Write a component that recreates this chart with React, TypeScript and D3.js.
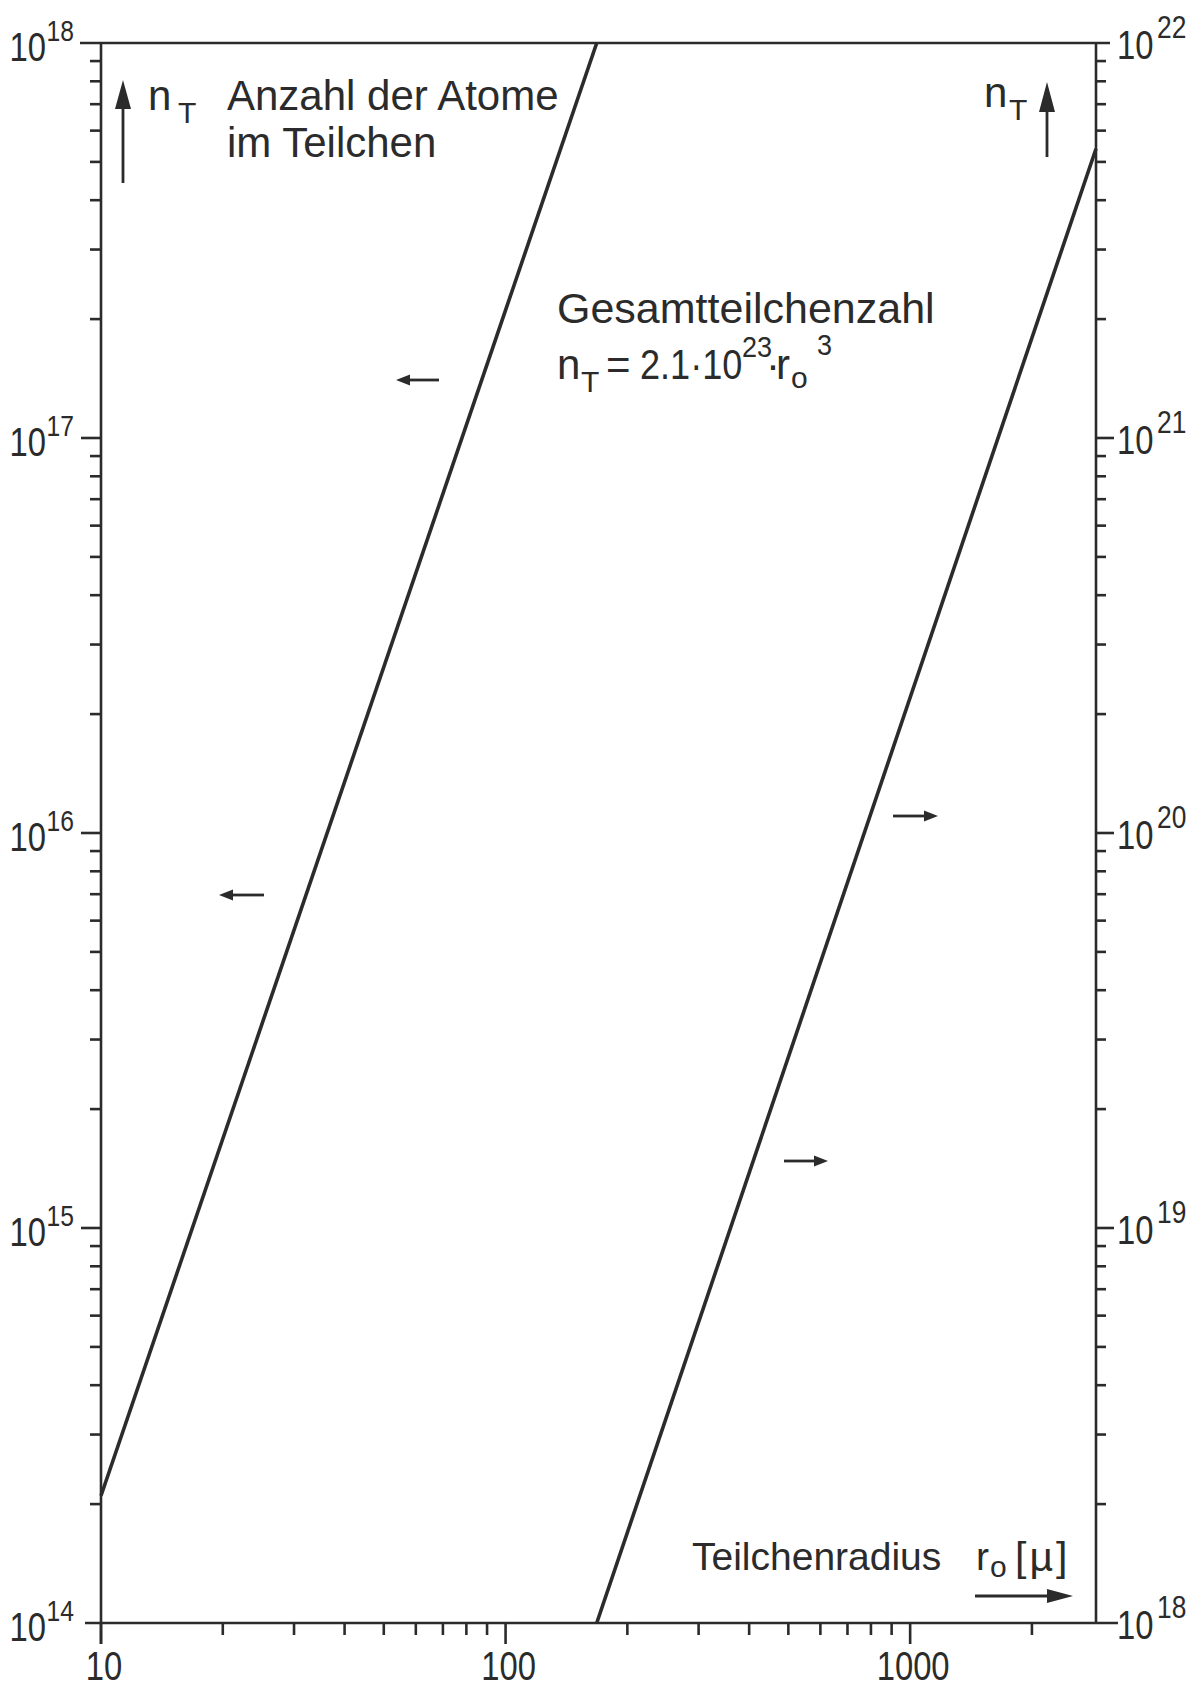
import React from "react";
import * as d3 from "d3";

// ---- data ----
// left series (read on left axis): radius r0 [µ] vs n_T
const leftLineR = [10, 168];
const leftLineN = [2.1e14, 1e18];
// right series (read on right axis)
const rightLineR = [168, 2880];
const rightLineN = [1e18, 5.4e21];

const xDomain = [10, 2880];
const yLeftDomain = [1e14, 1e18];
const yRightDomain = [1e18, 1e22];

const xMajorTicks = [10, 100, 1000];
const xTickLabels = ["10", "100", "1000"];
const xMinorTicks = [20, 30, 40, 50, 60, 70, 80, 90, 200, 300, 400, 500, 600, 700, 800, 900, 2000];

const leftMajorTicks = [1e14, 1e15, 1e16, 1e17, 1e18];
const leftExponents = ["14", "15", "16", "17", "18"];
const rightMajorTicks = [1e18, 1e19, 1e20, 1e21, 1e22];
const rightExponents = ["18", "19", "20", "21", "22"];
const minorMultipliers = [2, 3, 4, 5, 6, 7, 8, 9];

const ink = "#2b2b2b";
const font = "'Liberation Sans', Arial, sans-serif";

const L = 101, R = 1096, T = 43, B = 1623;

function Arrow({ x1, y1, x2, y2, head = 14, half = 5, sw = 2.8 }: any) {
  const dx = x2 - x1, dy = y2 - y1;
  const len = Math.hypot(dx, dy);
  const ux = dx / len, uy = dy / len;
  const bx = x2 - ux * head, by = y2 - uy * head;
  const px = -uy * half, py = ux * half;
  return (
    <g>
      <line x1={x1} y1={y1} x2={bx + ux} y2={by + uy} stroke={ink} strokeWidth={sw} />
      <polygon points={`${x2},${y2} ${bx + px},${by + py} ${bx - px},${by - py}`} fill={ink} />
    </g>
  );
}

// condensed text (the reference face has narrow digits)
function CText({ x, y, size, sx = 0.8, anchor = "start", children }: any) {
  return (
    <text
      transform={`translate(${x},${y}) scale(${sx},1)`}
      textAnchor={anchor}
      fontFamily={font}
      fontSize={size}
      fill={ink}
    >
      {children}
    </text>
  );
}

function Txt({ x, y, size = 42, children }: any) {
  return (
    <text x={x} y={y} fontFamily={font} fontSize={size} fill={ink}>
      {children}
    </text>
  );
}

export default function App() {
  const x = d3.scaleLog().domain(xDomain).range([L, R]);
  const yL = d3.scaleLog().domain(yLeftDomain).range([B, T]);
  const yR = d3.scaleLog().domain(yRightDomain).range([B, T]);

  const leftPts = leftLineR.map((r, i) => [r, leftLineN[i]] as [number, number]);
  const rightPts = rightLineR.map((r, i) => [r, rightLineN[i]] as [number, number]);
  const lineL = d3.line<[number, number]>().x(d => x(d[0])).y(d => yL(d[1]));
  const lineR = d3.line<[number, number]>().x(d => x(d[0])).y(d => yR(d[1]));

  const leftMinor: number[] = [];
  leftMajorTicks.slice(0, -1).forEach(d => minorMultipliers.forEach(m => leftMinor.push(d * m)));
  const rightMinor: number[] = [];
  rightMajorTicks.slice(0, -1).forEach(d => minorMultipliers.forEach(m => rightMinor.push(d * m)));

  const sw = 2.6;

  return (
    <svg width={1201} height={1690} style={{ position: "absolute", left: 0, top: 0, background: "#fff" }}>
      <rect x={0} y={0} width={1201} height={1690} fill="#fff" />
      {/* frame */}
      <line x1={80} y1={T} x2={1110} y2={T} stroke={ink} strokeWidth={sw} />
      <line x1={85} y1={B} x2={1118} y2={B} stroke={ink} strokeWidth={sw} />
      <line x1={L} y1={T} x2={L} y2={B + 21} stroke={ink} strokeWidth={sw} />
      <line x1={R} y1={T} x2={R} y2={B} stroke={ink} strokeWidth={sw} />

      {/* left axis ticks */}
      {leftMajorTicks.slice(1, -1).map(v => (
        <line key={"lm" + v} x1={L - 20} x2={L} y1={yL(v)} y2={yL(v)} stroke={ink} strokeWidth={sw} />
      ))}
      {leftMinor.map(v => (
        <line key={"ln" + v} x1={L - 11} x2={L} y1={yL(v)} y2={yL(v)} stroke={ink} strokeWidth={sw} />
      ))}
      {leftMajorTicks.map((v, i) => (
        <g key={"ll" + v}>
          <CText x={46} y={yL(v) + 18} size={41} anchor="end">10</CText>
          <CText x={74} y={yL(v) - 2} size={29} sx={0.85} anchor="end">{leftExponents[i]}</CText>
        </g>
      ))}

      {/* right axis ticks */}
      {rightMajorTicks.slice(1, -1).map(v => (
        <line key={"rm" + v} x1={R} x2={R + 18} y1={yR(v)} y2={yR(v)} stroke={ink} strokeWidth={sw} />
      ))}
      {rightMinor.map(v => (
        <line key={"rn" + v} x1={R} x2={R + 10} y1={yR(v)} y2={yR(v)} stroke={ink} strokeWidth={sw} />
      ))}
      {rightMajorTicks.map((v, i) => (
        <g key={"rl" + v}>
          <CText x={1117} y={yR(v) + 16} size={41}>10</CText>
          <CText x={1157} y={yR(v) - 5} size={31} sx={0.85}>{rightExponents[i]}</CText>
        </g>
      ))}

      {/* bottom axis ticks */}
      {xMajorTicks.map(v => (
        <line key={"xm" + v} x1={x(v)} x2={x(v)} y1={B} y2={B + 21} stroke={ink} strokeWidth={sw} />
      ))}
      {xMinorTicks.map(v => (
        <line key={"xn" + v} x1={x(v)} x2={x(v)} y1={B} y2={B + 12} stroke={ink} strokeWidth={sw} />
      ))}
      {xMajorTicks.map((v, i) => (
        <CText key={"xl" + v} x={x(v) + 3} y={1680} size={41} anchor="middle">
          {xTickLabels[i]}
        </CText>
      ))}

      {/* data lines */}
      <path d={lineL(leftPts) || ""} fill="none" stroke={ink} strokeWidth={3.6} />
      <path d={lineR(rightPts) || ""} fill="none" stroke={ink} strokeWidth={3.6} />

      {/* left axis title */}
      <Arrow x1={123} y1={183} x2={123} y2={80} head={29} half={8} />
      <Txt x={148} y={110}>n</Txt>
      <Txt x={178} y={123} size={30}>T</Txt>
      <Txt x={227} y={110}>Anzahl der Atome</Txt>
      <Txt x={227} y={157}>im Teilchen</Txt>

      {/* right axis title */}
      <Arrow x1={1047} y1={157} x2={1047} y2={82} head={30} half={8} />
      <Txt x={984} y={107}>n</Txt>
      <Txt x={1009} y={120} size={30}>T</Txt>

      {/* formula */}
      <Txt x={557} y={323} size={43}>Gesamtteilchenzahl</Txt>
      <Txt x={557} y={379}>n</Txt>
      <Txt x={581} y={392} size={30}>T</Txt>
      <Txt x={606} y={379}>=</Txt>
      <CText x={640} y={379} size={42} sx={0.86}>2.1·10</CText>
      <CText x={742} y={357} size={30} sx={0.9}>23</CText>
      <Txt x={766} y={379}>·</Txt>
      <Txt x={776} y={379}>r</Txt>
      <Txt x={791} y={388} size={30}>o</Txt>
      <CText x={817} y={355} size={30} sx={0.9}>3</CText>

      {/* x axis title */}
      <Txt x={692} y={1570} size={39}>Teilchenradius</Txt>
      <Txt x={976} y={1570} size={39}>r</Txt>
      <Txt x={990} y={1577} size={30}>o</Txt>
      <text x={1015} y={1571} fontFamily={font} fontSize={41} fill={ink} letterSpacing={3}>[µ]</text>
      <Arrow x1={975} y1={1596} x2={1073} y2={1596} head={26} half={7} />

      {/* direction arrows */}
      <Arrow x1={439} y1={380} x2={396} y2={380} head={14} half={5.5} />
      <Arrow x1={264} y1={895} x2={219} y2={895} head={14} half={5.5} />
      <Arrow x1={893} y1={816} x2={938} y2={816} head={14} half={5.5} />
      <Arrow x1={784} y1={1161} x2={828} y2={1161} head={14} half={5.5} />
    </svg>
  );
}
